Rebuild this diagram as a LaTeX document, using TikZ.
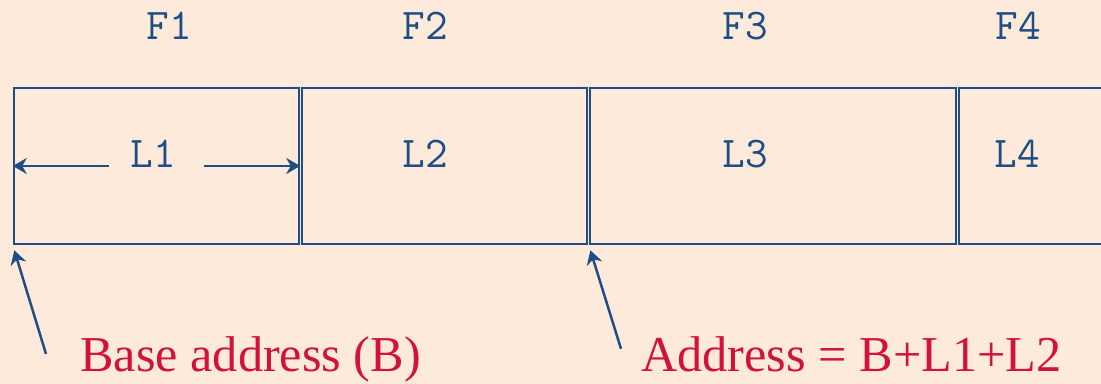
\documentclass[tikz,border=0pt]{standalone}
\usepackage{fontspec}
\setmainfont{Liberation Serif}
\usepackage{xcolor}
\usetikzlibrary{arrows.meta, positioning, calc}
\definecolor{bgpeach}{HTML}{FDEADB}
\definecolor{frameblue}{HTML}{1F4E85}
\definecolor{notered}{HTML}{D2123C}

\begin{document}
\begin{tikzpicture}[
    x=0.02cm, y=-0.02cm,
    cell/.style={draw=frameblue, line width=0.05cm, minimum height=3.12cm, inner sep=0pt},
    lbl/.style={font=\ttfamily\fontsize{25}{28}\selectfont, text=frameblue, inner sep=0pt},
    note/.style={font=\fontsize{28.6}{32}\selectfont, text=notered, inner sep=0pt},
    arr/.style={-{Stealth[length=0.28cm, width=0.32cm]}, line width=0.05cm, frameblue},
]
    \useasboundingbox (0,0) rectangle (1101,384);
    \fill[bgpeach] (0,0) rectangle (1101,384);
    \clip (0,0) rectangle (1101,384);

    % the four fields
    \node[cell, minimum width=5.7cm] (b1) at (156.5,166) {};
    \node[cell, minimum width=5.7cm] (b2) at (444.5,166) {};
    \node[cell, minimum width=7.32cm] (b3) at (773,166) {};
    \node[cell, minimum width=4cm] (b4) at (1059,166) {};

    \node[lbl] (f1) at (169,26) {F1};
    \node[lbl] (f2) at (425,26) {F2};
    \node[lbl] (f3) at (745,26) {F3};
    \node[lbl] (f4) at (1018,26) {F4};

    \node[lbl, inner xsep=0.42cm] (l1) at (153,154) {L1};
    \node[lbl] (l2) at (425,154) {L2};
    \node[lbl] (l3) at (745,154) {L3};
    \node[lbl] (l4) at (1017,154) {L4};

    \draw[arr] (l1.west |- b1.west) -- (b1.west);
    \draw[arr] ($(l1.east |- b1.east)+(7,0)$) -- (b1.east);

    % addresses
    \node[note, anchor=base west] (base) at (80,372) {Base address (B)};
    \node[note, anchor=base west] (addr) at (641,372) {Address = B+L1+L2};

    \draw[arr, shorten >=3pt] (base.west) ++(-34,-6) -- (b1.south west);
    \draw[arr, shorten >=3pt] (addr.west) ++(-20,-6) -- (b3.south west);
\end{tikzpicture}
\end{document}
